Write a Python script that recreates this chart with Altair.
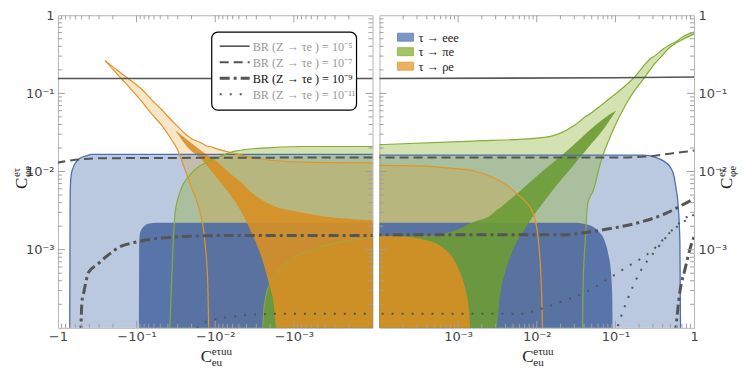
import altair as alt
import numpy as np
import pandas as pd

# Left panel: x = log10|C_eu| (C_eu < 0);  right panel: x = log10 C_eu.
BOT = -4.1  # just below the 1e-4 floor (clipped away)

# ---------------- left panel (negative C_eu) ----------------
eee_wide_L_x = [-0.15, -0.155, -0.16, -0.17, -0.19, -0.23, -0.28, -0.36, -0.43, -4.1]
eee_wide_L_hi = [-4.1, -2.40, -2.15, -2.04, -1.96, -1.88, -1.83, -1.80, -1.78, -1.78]

pie_wide_L_x = [-1.42, -1.44, -1.46, -1.49, -1.55, -1.70, -1.92, -2.08, -2.25, -2.59, -3.10, -4.1]
pie_wide_L_hi = [-4.1, -3.54, -3.04, -2.53, -2.27, -2.02, -1.87, -1.80, -1.74, -1.70, -1.68, -1.68]

rho_wide_L_x = [-0.60, -0.75, -0.88, -1.07, -1.19, -1.32, -1.45, -1.51, -1.61, -1.70, -1.79, -1.87,
                -1.905, -1.92, -2.02, -2.25, -2.59, -3.10, -4.1]
rho_wide_L_lo = [-0.58, -0.75, -0.89, -1.11, -1.26, -1.41, -1.60, -1.70, -1.96, -2.21, -2.46, -2.91,
                 -3.42, -4.1, -4.1, -4.1, -4.1, -4.1, -4.1]
rho_wide_L_hi = [-0.58, -0.70, -0.80, -0.95, -1.08, -1.21, -1.35, -1.41, -1.51, -1.58, -1.62, -1.66,
                 -1.68, -1.68, -1.71, -1.77, -1.84, -1.88, -1.89]

eee_core_L_x = [-1.03, -1.033, -1.04, -1.07, -1.105, -1.16, -1.26, -4.1]
eee_core_L_hi = [-4.1, -2.97, -2.81, -2.73, -2.69, -2.665, -2.655, -2.655]

pie_core_L_x = [-2.60, -2.615, -2.64, -2.69, -2.78, -2.97, -3.23, -3.61, -4.1]
pie_core_L_hi = [-4.1, -3.80, -3.61, -3.44, -3.29, -3.12, -3.00, -2.90, -2.84]

rho_core_L_x = [-1.49, -1.64, -1.83, -1.99, -2.17, -2.34, -2.46, -2.59, -2.68, -2.74, -2.79, -2.97, -3.35, -4.1]
rho_core_L_lo = [-1.47, -1.68, -1.85, -2.04, -2.27, -2.53, -2.78, -3.10, -3.42, -3.67, -4.1, -4.1, -4.1, -4.1]
rho_core_L_hi = [-1.47, -1.59, -1.74, -1.85, -2.01, -2.15, -2.27, -2.36, -2.41, -2.44, -2.46, -2.50, -2.57, -2.63]

# BR(Z -> tau e) contours, left panel
br5_L = {"a": ([0.02, -4.1], [-0.81, -0.81])}
br7_L = {"a": ([0.02, -0.18, -0.34, -0.56, -4.1], [-1.89, -1.855, -1.84, -1.83, -1.82])}
br9_L = {"a": ([-0.29, -0.305, -0.33, -0.39, -0.50, -0.65, -0.775, -0.965, -1.16, -1.45, -2.08, -4.1],
               [-4.1, -3.67, -3.54, -3.29, -3.19, -3.06, -2.97, -2.91, -2.87, -2.84, -2.82, -2.82])}
br11_L = {"a": ([-1.68, -1.83, -1.96, -2.21, -2.46, -2.88, -4.1],
                [-4.1, -3.95, -3.90, -3.86, -3.835, -3.82, -3.82])}

# ---------------- right panel (positive C_eu) ----------------
eee_wide_R_x = [-4.1, -0.65, -0.50, -0.38, -0.305, -0.255, -0.23, -0.205, -0.18, -0.172]
eee_wide_R_hi = [-1.79, -1.79, -1.815, -1.87, -1.94, -2.06, -2.21, -2.40, -2.91, -4.1]

pie_wide_R_x = [-4.1, -2.81, -2.04, -1.79, -1.54, -1.42, -1.41, -1.385, -1.35, -1.28, -1.19, -1.03,
                -0.86, -0.775, -0.65, -0.56, -0.50, -0.39, -0.33, -0.20, -0.165, 0.02]
pie_wide_R_lo = [-4.1, -4.1, -4.1, -4.1, -4.1, -4.1, -3.42, -2.91, -2.40, -2.24, -1.89, -1.47,
                 -1.13, -0.99, -0.825, -0.70, -0.62, -0.50, -0.43, -0.34, -0.32, -0.23]
pie_wide_R_hi = [-1.66, -1.61, -1.575, -1.54, -1.42, -1.33, -1.32, -1.30, -1.28, -1.23, -1.16, -1.03,
                 -0.89, -0.81, -0.66, -0.56, -0.52, -0.43, -0.39, -0.32, -0.29, -0.21]

rho_wide_R_x = [-4.1, -3.44, -3.06, -2.81, -2.55, -2.39, -2.235, -2.13, -2.04, -1.98, -1.94, -1.925]
rho_wide_R_hi = [-1.92, -1.93, -1.96, -1.99, -2.08, -2.17, -2.30, -2.40, -2.55, -2.88, -3.52, -4.1]

eee_core_R_x = [-4.1, -1.54, -1.35, -1.22, -1.14, -1.09, -1.055, -1.04, -1.035]
eee_core_R_hi = [-2.655, -2.655, -2.68, -2.76, -2.88, -3.06, -3.31, -3.61, -4.1]

pie_core_R_x = [-4.1, -3.44, -3.06, -2.81, -2.55, -2.53, -2.46, -2.39, -2.26, -2.17, -2.08, -1.92,
                -1.75, -1.575, -1.35, -1.16, -0.99]
pie_core_R_lo = [-4.1, -4.1, -4.1, -4.1, -4.1, -4.1, -3.54, -3.25, -2.91, -2.76, -2.62, -2.40,
                 -2.18, -1.97, -1.70, -1.47, -1.22]
pie_core_R_hi = [-2.84, -2.82, -2.76, -2.65, -2.53, -2.51, -2.46, -2.40, -2.29, -2.21, -2.13, -1.99,
                 -1.85, -1.70, -1.49, -1.33, -1.22]

rho_core_R_x = [-4.1, -3.70, -3.44, -3.23, -3.06, -2.96, -2.90, -2.86, -2.844]
rho_core_R_hi = [-2.82, -2.83, -2.87, -2.95, -3.12, -3.33, -3.54, -3.80, -4.1]

br5_R = {"a": ([-4.1, -1.0, 0.02], [-0.81, -0.80, -0.79])}
br7_R = {"a": ([-4.1, -1.0, -0.52, -0.27, -0.05, 0.02], [-1.82, -1.82, -1.80, -1.765, -1.74, -1.73])}
br9_R = {"a": ([-4.1, -1.66, -1.37, -1.12, -0.69, -0.39, -0.05, 0.02],
               [-2.81, -2.81, -2.78, -2.74, -2.65, -2.55, -2.375, -2.34]),
         "b": ([-0.24, -0.18, -0.115, -0.04, 0.0, 0.02], [-4.1, -3.54, -3.25, -2.95, -2.83, -2.76])}
br11_R = {"a": ([-4.1, -2.17, -1.96, -1.70, -1.37, -1.12, -0.86, -0.52, -0.305, -0.14, 0.0],
                [-3.82, -3.82, -3.76, -3.67, -3.54, -3.39, -3.225, -3.00, -2.78, -2.65, -2.55]),
          "b": ([-1.01, -0.86, -0.69, -0.48, -0.27, -0.14, 0.0],
                [-4.1, -3.67, -3.29, -3.00, -2.74, -2.62, -2.52])}

# ---------------- text ----------------
x_tick_vals = [0, -1, -2, -3]
x_labels_L = ["−1", "−10⁻¹", "−10⁻²", "−10⁻³"]
x_labels_R = ["1", "10⁻¹", "10⁻²", "10⁻³"]
y_labels = ["1", "10⁻¹", "10⁻²", "10⁻³"]
br_labels = ["BR (Z → τe ) = 10⁻⁵", "BR (Z → τe ) = 10⁻⁷", "BR (Z → τe ) = 10⁻⁹", "BR (Z → τe ) = 10⁻¹¹"]
br_label_colors = ["#9a9a9a", "#9a9a9a", "#111111", "#9a9a9a"]
proc_labels = ["τ → eee", "τ → πe", "τ → ρe"]
proc_colors = ["#7c95c5", "#a5c46a", "#eab066"]
proc_edges = ["#5e81b5", "#8fb032", "#e19c24"]

# ---------------- styles ----------------
W = 315
H = 313
TICK_FONT = "DejaVu Sans"
SERIF = "Liberation Serif"
LINEC = "#555555"
BLUE, GREEN, ORANGE = "#5e81b5", "#8fb032", "#e19c24"
BR_STYLES = [  # (width, dash)
    (1.6, None), (2.0, [9, 5]), (3.0, [10, 4, 3, 4]), (2.0, [2, 8])]


def lab_expr(vals, texts):
    e = "''"
    for v, t in zip(vals, texts):
        e = f"datum.value == {v} ? '{t}' : ({e})"
    return e


def X(side):
    texts = x_labels_L if side == "L" else x_labels_R
    return alt.X("xe:Q",
                 scale=alt.Scale(domain=[-4, 0], reverse=(side == "L"), nice=False, zero=False),
                 axis=alt.Axis(values=x_tick_vals, labelExpr=lab_expr(x_tick_vals, texts), title=None,
                               ticks=False, domain=False, grid=False, labelFont=TICK_FONT,
                               labelFontSize=13, labelColor="#444444", labelPadding=3,
                               labelFlush=False, labelOverlap=False))


def Y(side, field):
    return alt.Y(f"{field}:Q",
                 scale=alt.Scale(domain=[-4, 0], nice=False, zero=False),
                 axis=alt.Axis(values=x_tick_vals, labelExpr=lab_expr(x_tick_vals, y_labels), title=None,
                               orient="left" if side == "L" else "right",
                               ticks=False, domain=False, grid=False, labelFont=TICK_FONT,
                               labelFontSize=13, labelColor="#444444", labelPadding=4,
                               labelFlush=False, labelOverlap=False))


def region(x, hi, lo=None):
    if lo is None:
        lo = [BOT] * len(x)
    return pd.DataFrame({"xe": x, "ylo": lo, "yhi": hi}).sort_values("xe").reset_index(drop=True)


def outline_df(d, lower):
    parts = [pd.DataFrame({"xe": d.xe, "ye": d.yhi, "branch": "upper"})]
    if lower:
        m = (d.ylo > -4.05).values
        ext = m.copy()
        ext[1:] |= m[:-1]
        ext[:-1] |= m[1:]
        dd = d[ext]
        parts.append(pd.DataFrame({"xe": dd.xe, "ye": dd.ylo, "branch": "lower"}))
    return pd.concat(parts, ignore_index=True)


def lines_df(branches):
    rows = []
    for name, (xs, ys) in branches.items():
        for xv, yv in zip(xs, ys):
            rows.append({"xe": xv, "ye": yv, "branch": name})
    return pd.DataFrame(rows)


def area(d, color, op, side):
    return alt.Chart(d).mark_area(color=color, fillOpacity=op, interpolate="monotone", clip=True).encode(
        x=X(side), y=Y(side, "ylo"), y2=alt.Y2("yhi:Q"))


def line(d, color, width, dash, side, op=1.0):
    kw = dict(color=color, strokeWidth=width, interpolate="monotone", clip=True, opacity=op)
    if dash:
        kw["strokeDash"] = dash
    return alt.Chart(d).mark_line(**kw).encode(x=X(side), y=Y(side, "ye"), detail="branch:N")


ONE = pd.DataFrame({"k": [0]})


def txt(s, x, y, size, color="#222222", font=SERIF, angle=0, align="left", baseline="alphabetic"):
    kw = dict(text=s, font=font, fontSize=size, color=color, align=align, baseline=baseline)
    if angle:
        kw["angle"] = angle
    return alt.Chart(ONE).mark_text(**kw).encode(x=alt.value(x), y=alt.value(y))


def ticks(side):
    minor = [n + np.log10(k) for n in range(-4, 0) for k in range(2, 10)]
    major = [-3, -2, -1]
    out = []
    tc = "#a0a0a0"
    for vals, ln in ((major, 7), (minor, 4)):
        dx = pd.DataFrame({"xe": vals})
        dy = pd.DataFrame({"ye": vals})
        out.append(alt.Chart(dx).mark_rule(color=tc, strokeWidth=1).encode(
            x=X(side), y=alt.value(H), y2=alt.value(H - ln)))
        out.append(alt.Chart(dx).mark_rule(color=tc, strokeWidth=1).encode(
            x=X(side), y=alt.value(0), y2=alt.value(ln)))
        out.append(alt.Chart(dy).mark_rule(color=tc, strokeWidth=1).encode(
            y=Y(side, "ye"), x=alt.value(0), x2=alt.value(ln)))
        out.append(alt.Chart(dy).mark_rule(color=tc, strokeWidth=1).encode(
            y=Y(side, "ye"), x=alt.value(W), x2=alt.value(W - ln)))
    return out


def panel(side):
    if side == "L":
        eb = region(eee_wide_L_x, eee_wide_L_hi)
        gb = region(pie_wide_L_x, pie_wide_L_hi)
        ob = region(rho_wide_L_x, rho_wide_L_hi, rho_wide_L_lo)
        ec = region(eee_core_L_x, eee_core_L_hi)
        gc = region(pie_core_L_x, pie_core_L_hi)
        oc = region(rho_core_L_x, rho_core_L_hi, rho_core_L_lo)
        brs = [br5_L, br7_L, br9_L, br11_L]
        g_lower = False
    else:
        eb = region(eee_wide_R_x, eee_wide_R_hi)
        gb = region(pie_wide_R_x, pie_wide_R_hi, pie_wide_R_lo)
        ob = region(rho_wide_R_x, rho_wide_R_hi)
        ec = region(eee_core_R_x, eee_core_R_hi)
        gc = region(pie_core_R_x, pie_core_R_hi, pie_core_R_lo)
        oc = region(rho_core_R_x, rho_core_R_hi)
        brs = [br5_R, br7_R, br9_R, br11_R]
        g_lower = True

    layers = [
        area(eb, BLUE, 0.43, side),
        area(gb, GREEN, 0.38, side),
        area(ob, ORANGE, 0.25, side),
        area(ec, "#4f6aa3", 0.9, side),
        area(gc, "#6c9b35", 0.9, side),
        area(oc, "#d88f24", 0.9, side),
        line(outline_df(eb, False), "#4d6fb0", 1.3, None, side),
        line(outline_df(gb, g_lower), "#86ad36", 1.2, None, side),
        line(outline_df(ob, side == "L"), "#e0952a", 1.2, None, side),
    ]
    if side == "L":
        layers.append(line(outline_df(gc, False), "#9ab040", 1.0, None, side, op=0.8))
    for br, (wd, dash) in zip(brs, BR_STYLES):
        layers.append(line(lines_df(br), LINEC, wd, dash, side))
    layers += ticks(side)

    if side == "L":
        # BR legend box
        layers.append(alt.Chart(ONE).mark_rect(fill="white", stroke="black", strokeWidth=1.2,
                                               cornerRadius=6).encode(
            x=alt.value(154), x2=alt.value(299), y=alt.value(17), y2=alt.value(95)))
        for i, ((wd, dash), lab, col) in enumerate(zip(BR_STYLES, br_labels, br_label_colors)):
            yy = 31 + i * 16
            kw = dict(color=LINEC, strokeWidth=wd)
            if dash:
                kw["strokeDash"] = dash
            layers.append(alt.Chart(ONE).mark_rule(**kw).encode(
                x=alt.value(162), x2=alt.value(192), y=alt.value(yy)))
            layers.append(txt(lab, 195, yy + 4.5, 12.2, color=col))
        # y-axis title (rotated)
        layers += [txt("C", -31, 174, 17, angle=270), txt("eτ", -38, 162, 11, angle=270),
                   txt("φe", -27, 162, 11, angle=270)]
    else:
        for i, (lab, fc, ec_) in enumerate(zip(proc_labels, proc_colors, proc_edges)):
            yy = 22 + i * 14.5
            layers.append(alt.Chart(ONE).mark_rect(fill=fc, stroke=ec_, strokeWidth=0.8).encode(
                x=alt.value(18), x2=alt.value(34), y=alt.value(yy - 4), y2=alt.value(yy + 4)))
            layers.append(txt(lab, 39, yy + 4.5, 12.5, color="#222222"))
        layers += [txt("C", 353, 174, 17, angle=270), txt("eτ", 346, 162, 11, angle=270),
                   txt("φe", 357, 162, 11, angle=270)]
    # x-axis title
    layers += [txt("C", 143, 347, 17), txt("eτuu", 154, 340, 11), txt("eu", 154, 351, 11)]
    return alt.layer(*layers).properties(width=W, height=H)


chart = alt.hconcat(panel("L"), panel("R"), spacing=5).resolve_scale(
    x="independent", y="independent").configure_view(stroke="#b5b5b5", strokeWidth=1).properties(
    padding={"left": 2, "top": 0, "right": 0, "bottom": 0})

chart.save("out.html", embed_options={"renderer": "svg", "actions": False})
